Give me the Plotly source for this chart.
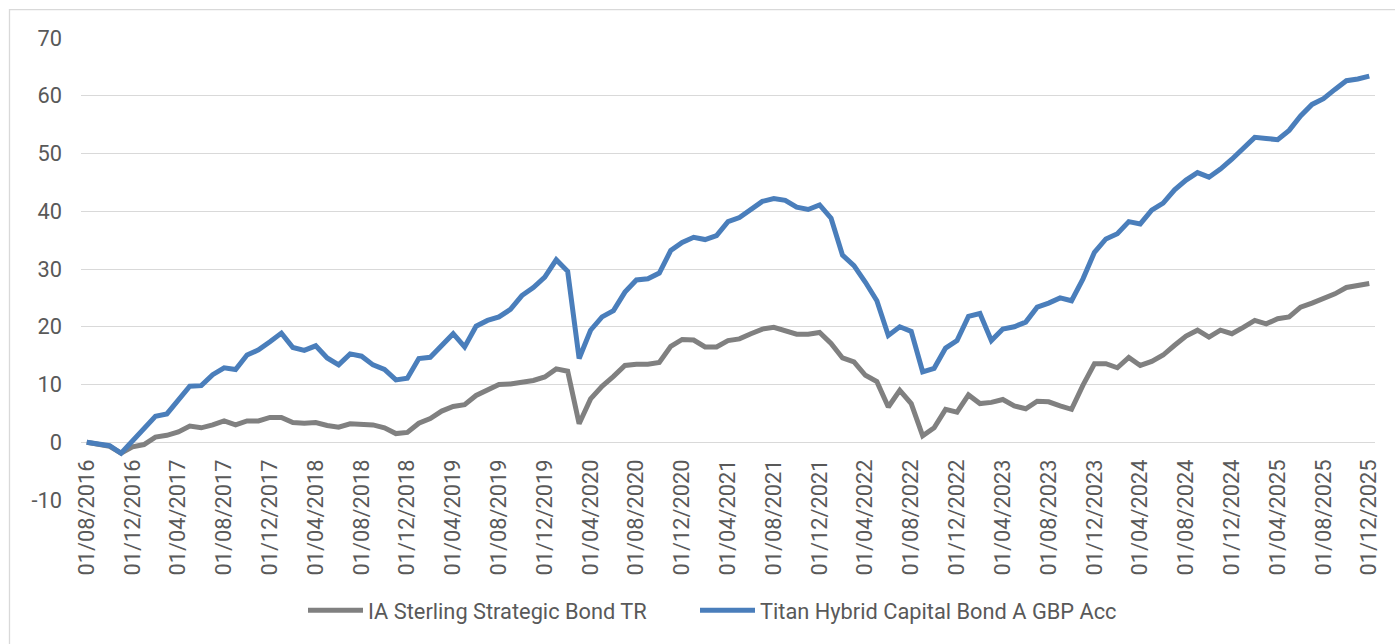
import plotly.graph_objects as go
import pandas as pd

# Monthly dates 01/08/2016 .. 01/12/2025
dates = pd.date_range("2016-08-01", "2025-12-01", freq="MS")
date_labels = [d.strftime("%d/%m/%Y") for d in dates]

ia_sterling = [
    0.0, -0.3, -0.7, -1.9, -0.8, -0.4, 0.9, 1.2, 1.8, 2.8,
    2.5, 3.0, 3.7, 3.0, 3.7, 3.7, 4.3, 4.3, 3.4, 3.3,
    3.4, 2.9, 2.6, 3.2, 3.2, 3.0, 2.5, 1.5, 1.7, 3.3,
    4.1, 5.4, 6.2, 6.5, 8.1, 9.0, 10.0, 10.1, 10.3, 10.7,
    11.3, 12.7, 12.3, 3.2, 7.5, 9.7, 11.4, 13.3, 13.5, 13.5,
    13.8, 16.6, 17.8, 17.7, 16.5, 16.5, 17.6, 17.9, 18.8, 19.6,
    19.9, 19.2, 18.7, 18.7, 19.0, 17.1, 14.6, 13.9, 11.6, 10.5,
    6.1, 9.0, 6.7, 1.1, 2.5, 5.7, 5.2, 8.2, 6.7, 6.9,
    7.4, 6.3, 5.8, 7.1, 7.0, 6.3, 5.7, 9.9, 13.6, 13.6,
    12.9, 14.7, 13.3, 14.0, 15.1, 16.8, 18.4, 19.4, 18.2, 19.4,
    18.8, 19.9, 21.1, 20.5, 21.4, 21.7, 23.4, 24.1, 24.8, 25.7,
    26.8, 27.1, 27.5,
]

titan_hybrid = [
    0.0, -0.3, -0.6, -1.9, 0.2, 2.3, 4.5, 4.9, 7.2, 9.7,
    9.8, 11.7, 12.9, 12.6, 15.1, 16.0, 17.4, 18.9, 16.4, 15.9,
    16.7, 14.6, 13.4, 15.3, 14.9, 13.4, 12.6, 10.8, 11.1, 14.5,
    14.7, 16.7, 18.8, 16.5, 20.1, 21.1, 21.7, 23.0, 25.4, 26.8,
    28.6, 31.6, 29.6, 14.5, 19.4, 21.7, 22.8, 26.0, 28.1, 28.3,
    29.3, 33.2, 34.6, 35.5, 35.1, 35.8, 38.2, 38.9, 40.4, 41.7,
    42.2, 41.9, 40.7, 40.3, 41.1, 38.8, 32.4, 30.6, 27.7, 24.5,
    18.5, 20.0, 19.2, 12.2, 12.8, 16.3, 17.6, 21.8, 22.3, 17.6,
    19.6, 20.0, 20.8, 23.4, 24.1, 25.0, 24.5, 28.3, 32.9, 35.2,
    36.1, 38.2, 37.8, 40.2, 41.4, 43.7, 45.4, 46.7, 45.9, 47.3,
    49.0, 50.9, 52.8, 52.6, 52.4, 54.0, 56.5, 58.5, 59.5, 61.1,
    62.6, 62.9, 63.4,
]

y_ticks = [-10, 0, 10, 20, 30, 40, 50, 60, 70]
y_ticktext = ["-10", "0", "10", "20", "30", "40", "50", "60", "70"]
x_index = list(range(len(dates)))
x_tickvals = x_index[::4]
x_ticktext = date_labels[::4]

FONT = "Roboto"
TEXT = "#595959"
GRID = "#D9D9D9"

W, H = 1395, 644
ML, MR, MT, MB = 81, 20, 38, 142
PW, PH = W - ML - MR, H - MT - MB


def px_x(p):
    return (p - ML) / PW


def px_y(p):
    return (H - MB - p) / PH


fig = go.Figure()
fig.add_trace(go.Scatter(
    x=x_index, y=ia_sterling, mode="lines",
    name="IA Sterling Strategic Bond TR",
    line=dict(color="#808080", width=5),
    legendwidth=322,
))
fig.add_trace(go.Scatter(
    x=x_index, y=titan_hybrid, mode="lines",
    name="Titan Hybrid Capital Bond A GBP Acc",
    line=dict(color="#4A7EBB", width=5),
    legendwidth=380,
))

fig.update_layout(
    width=W, height=H,
    margin=dict(l=ML, r=MR, t=MT, b=MB),
    paper_bgcolor="white", plot_bgcolor="white",
    font=dict(family=FONT, size=21.5, color=TEXT),
    showlegend=True,
    legend=dict(
        orientation="h", x=px_x(303), xanchor="left",
        y=px_y(613), yanchor="middle",
        itemwidth=55,
        font=dict(family=FONT, size=21.8, color=TEXT),
        bgcolor="rgba(0,0,0,0)",
    ),
    xaxis=dict(
        range=[-0.5, len(dates) - 0.5],
        tickmode="array", tickvals=x_tickvals, ticktext=x_ticktext,
        tickangle=-90, showgrid=False, zeroline=False, showline=False,
        anchor="free", position=10 / 80,
        ticks="", ticklabelstandoff=12,
        tickfont=dict(family=FONT, size=21.8, color=TEXT),
    ),
    yaxis=dict(
        range=[-10, 70], tickmode="array", tickvals=y_ticks,
        ticktext=y_ticktext,
        showgrid=True, gridcolor=GRID, gridwidth=1.3,
        zeroline=False, showline=False, ticks="",
        ticklabelstandoff=18,
        tickfont=dict(family=FONT, size=21.8, color=TEXT),
    ),
    shapes=[dict(
        type="rect", xref="paper", yref="paper",
        x0=px_x(9.5), x1=px_x(1400), y0=px_y(650), y1=px_y(9.5),
        line=dict(color=GRID, width=1.3), fillcolor="rgba(0,0,0,0)",
        layer="below",
    )],
)

fig.write_html("out.html")
